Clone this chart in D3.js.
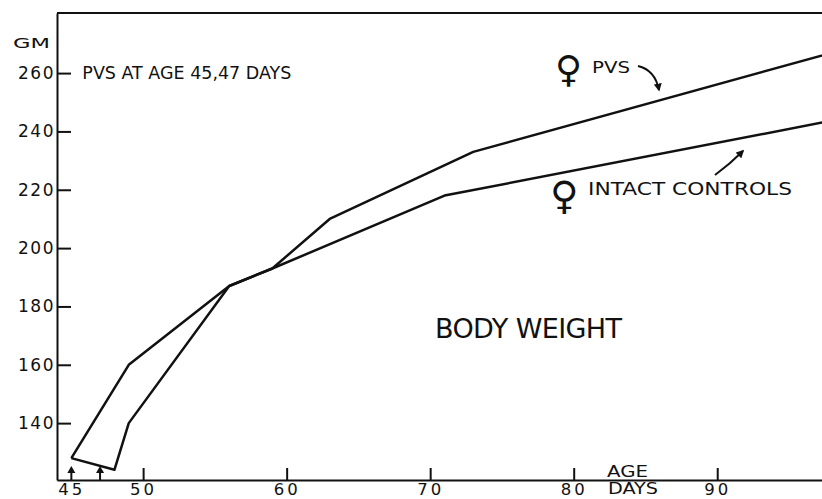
<!DOCTYPE html>
<html>
<head>
<meta charset="utf-8">
<script src="https://cdn.jsdelivr.net/npm/d3@7"></script>
<style>
  body { margin: 0; background: #fff; }
  text { font-family: "DejaVu Sans", sans-serif; fill: #111; }
</style>
</head>
<body>
<div class="canvas"></div>
<script>
// data (age in days, body weight in grams)
const pvsDays = [45, 48, 49, 56, 59, 63, 73, 98];
const pvsWeight = [128, 124, 140, 187, 193, 210, 233, 267];
const ctrlDays = [45, 49, 56, 59, 71, 98];
const ctrlWeight = [128, 160, 187, 193, 218, 243.7];
const yTicks = [140, 160, 180, 200, 220, 240, 260];
const xTicks = [45, 50, 60, 70, 80, 90];
const surgeryDays = [45, 47];

const width = 822, height = 499;
const margin = {top: 13, right: 0, bottom: 19, left: 57};

const svg = d3.select('.canvas')
  .append('svg')
    .attr('width', width)
    .attr('height', height);

const x = d3.scaleLinear()
  .domain([44, 97.3])
  .range([margin.left, width - margin.right]);

const y = d3.scaleLinear()
  .domain([120.5, 280.6])
  .range([height - margin.bottom, margin.top]);

const ink = '#111';

// clip so the lines stop at the right edge
svg.append('clipPath').attr('id', 'plot')
  .append('rect')
    .attr('x', margin.left)
    .attr('y', margin.top)
    .attr('width', width - margin.left - margin.right)
    .attr('height', height - margin.top - margin.bottom);

// top frame line
svg.append('line')
  .attr('x1', margin.left).attr('x2', width)
  .attr('y1', margin.top).attr('y2', margin.top)
  .attr('stroke', ink).attr('stroke-width', 2);

// y axis, ticks pointing inwards
const yAxis = d3.axisLeft(y)
  .tickValues(yTicks)
  .tickSizeInner(-14)
  .tickSizeOuter(0)
  .tickPadding(2);

const yAxisGroup = svg.append('g')
  .attr('transform', `translate(${margin.left},0)`)
  .call(yAxis);

yAxisGroup.select('.domain').attr('stroke', ink).attr('stroke-width', 2);
yAxisGroup.selectAll('line').attr('stroke', ink).attr('stroke-width', 2);
yAxisGroup.selectAll('text')
  .attr('font-size', 17)
  .attr('letter-spacing', 1.5)
  .attr('font-family', '"DejaVu Sans", sans-serif')
  .attr('fill', ink);

// x axis, ticks pointing up
const xAxis = d3.axisBottom(x)
  .tickValues(xTicks)
  .tickSizeInner(-12)
  .tickSizeOuter(0)
  .tickPadding(3);

const xAxisGroup = svg.append('g')
  .attr('transform', `translate(0,${height - margin.bottom})`)
  .call(xAxis);

xAxisGroup.select('.domain').attr('stroke', ink).attr('stroke-width', 2);
xAxisGroup.selectAll('line').attr('stroke', ink).attr('stroke-width', 2);
// day 45 gets an arrow instead of a tick
xAxisGroup.selectAll('.tick').filter(d => d === 45).select('line').remove();
xAxisGroup.selectAll('text')
  .attr('font-size', 16.5)
  .attr('letter-spacing', 3)
  .attr('font-family', '"DejaVu Sans", sans-serif')
  .attr('fill', ink);

// arrows marking the PVS operations
const arrows = svg.append('g').selectAll('g')
  .data(surgeryDays)
  .enter()
  .append('g')
    .attr('transform', d => `translate(${x(d)},${height - margin.bottom})`);

arrows.append('line')
  .attr('y1', 0).attr('y2', -9)
  .attr('stroke', ink).attr('stroke-width', 2);
arrows.append('path')
  .attr('d', 'M-4,-7 L0,-14 L4,-7 Z')
  .attr('fill', ink);

// the two series
const line = d3.line()
  .x(d => x(d[0]))
  .y(d => y(d[1]));

const series = [
  d3.zip(pvsDays, pvsWeight),
  d3.zip(ctrlDays, ctrlWeight)
];

svg.append('g')
  .attr('clip-path', 'url(#plot)')
  .selectAll('path')
  .data(series)
  .enter()
  .append('path')
    .attr('d', line)
    .attr('fill', 'none')
    .attr('stroke', ink)
    .attr('stroke-width', 2.5)
    .attr('stroke-linejoin', 'round');

// text labels (wide lettering, so glyphs are stretched to fit)
const label = (tx, ty, size, len, str) => svg.append('text')
  .attr('x', tx).attr('y', ty)
  .attr('font-size', size)
  .attr('textLength', len)
  .attr('lengthAdjust', 'spacingAndGlyphs')
  .text(str);

label(13, 48, 14, 37, 'GM');
label(x(45) + 11, y(260) + 6, 17, 209, 'PVS AT AGE 45,47 DAYS');
label(592, 73, 16, 38, 'PVS');
label(588, 195, 17, 204, 'INTACT CONTROLS');
label(607, 477, 16, 41, 'AGE');
label(608, 494, 15, 50, 'DAYS');

svg.append('text')
  .attr('x', 435).attr('y', 338)
  .attr('font-size', 27)
  .attr('font-family', '"Liberation Sans", sans-serif')
  .attr('textLength', 187).attr('lengthAdjust', 'spacing')
  .text('BODY WEIGHT');

// female symbols
svg.append('text')
  .attr('x', 555).attr('y', 82)
  .attr('font-size', 37)
  .text('\u2640');
svg.append('text')
  .attr('x', 550).attr('y', 209)
  .attr('font-size', 39)
  .text('\u2640');

// curved pointer arrows
svg.append('defs').append('marker')
  .attr('id', 'head')
  .attr('viewBox', '0 0 10 10')
  .attr('refX', 8).attr('refY', 5)
  .attr('markerWidth', 4).attr('markerHeight', 4)
  .attr('orient', 'auto')
  .append('path')
    .attr('d', 'M0,0 L10,5 L0,10 Z')
    .attr('fill', ink);

svg.append('path')
  .attr('d', 'M638,66 Q655,70 659,90')
  .attr('fill', 'none')
  .attr('stroke', ink).attr('stroke-width', 2)
  .attr('marker-end', 'url(#head)');

svg.append('path')
  .attr('d', 'M715,175 Q730,164 743,151')
  .attr('fill', 'none')
  .attr('stroke', ink).attr('stroke-width', 2)
  .attr('marker-end', 'url(#head)');
</script>
</body>
</html>
